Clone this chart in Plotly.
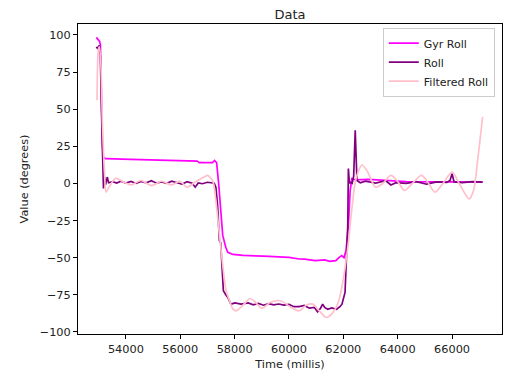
import plotly.graph_objects as go

# ---- data ----
gyr_t = [52913, 52969, 53037, 53063, 53100, 53138, 53175, 53250, 54188, 55313, 56625, 56700,
         57188, 57263, 57338, 57413, 57488, 57563, 57675, 57750, 57938, 58313, 59063, 60000,
         60375, 60563, 60975, 61313, 61500, 61725, 61838, 61938, 62025, 62100, 62189, 62250,
         62313, 62438, 62925, 63563, 64313, 65813, 67125]
gyr_roll = [98.4, 97, 95.5, 93, 60, 25, 17.5, 16.7, 16.2, 15.8, 15, 14,
            14, 15.5, 14, 0, -20, -35, -43, -46.4, -47.8, -48.5, -49, -49.8,
            -50.9, -51, -52, -51.5, -52.5, -52, -50, -48.6, -50, -45, -28, -5,
            3.2, 2.5, 2.7, 1.8, 1.2, 1.0, 0.9]

roll_t = [52913, 52950, 53025, 53063, 53100, 53138, 53175, 53213, 53250, 53314, 53363, 53513,
          53663, 53813, 54000, 54188, 54375, 54563, 54750, 54938, 55125, 55313, 55500, 55688,
          55875, 56063, 56250, 56438, 56550, 56663, 56813, 57000, 57251, 57311, 57375, 57439,
          57488, 57587, 57675, 57750, 57863, 58013, 58238, 58500, 58688, 58875, 59063, 59250,
          59438, 59625, 59813, 60000, 60188, 60375, 60563, 60750, 60938, 61050, 61163, 61238,
          61313, 61425, 61575, 61751, 61875, 61950, 62063, 62126, 62164, 62186, 62224, 62250,
          62325, 62381, 62438, 62501, 62625, 62813, 63188, 63563, 63750, 63938, 64313, 64688,
          65063, 65438, 65813, 65925, 66000, 66075, 66375, 66750, 67125]
roll = [92, 91, 93, 85, 50, 20, -3.4, 4.5, -1, 4.3, 0.5, 1.2,
        0.3, 1.5, 0.2, 1.4, 0, 1.3, 0.4, 1.8, 0.2, 1.0, 0.1, 1.5,
        0.6, -0.5, 1.2, 0.1, -2.5, 0.3, -0.2, 0.8, 0.2, -2.5, -15, -38.5,
        -40, -72.3, -75, -76.8, -81.3, -80.5, -81.3, -80.5, -81.8, -80.8, -82, -81,
        -81.8, -81.2, -82, -81.5, -83, -83, -82.2, -84, -83.5, -86.5, -84, -81.3,
        -83.5, -84.7, -83.8, -84.7, -83, -81.3, -73.4, -35, -28, 10, 0, 0.9,
        0, 5, 35.8, 2, 0.5, 1.5, 0.3, 1.8, -1, 0.5, 0, 1.2,
        -0.5, 1.0, 0.8, 2, 6.5, 1, 0.5, 1.2, 0.9]

filt_t = [52939, 52988, 53025, 53081, 53138, 53213, 53269, 53363, 53625, 53925, 54188, 54563,
          54938, 55313, 55688, 55988, 56250, 56550, 56876, 57000, 57188, 57300, 57439, 57563,
          57686, 57814, 57938, 58061, 58313, 58564, 58763, 59000, 59325, 59689, 60038, 60375,
          60638, 60874, 61125, 61376, 61613, 61812, 62000, 62186, 62314, 62438, 62550, 62689,
          62888, 63188, 63450, 63750, 64013, 64249, 64538, 64875, 65100, 65374, 65663, 66000,
          66263, 66626, 66788, 66938, 67125]
filt_roll = [56, 90, 92, 80, 40, 8, -5.9, -3, 3.4, 0.9, -1, 2,
             -1.5, 1.5, -1, 1.5, -2.5, 1, 4.3, 5.4, 2, -10, -34, -55,
             -72, -79, -84.5, -85.8, -82, -77.5, -80, -84, -80, -79, -83, -85.8,
             -82, -81.3, -86, -90.3, -87, -80.2, -64.4, -39.6, -17, 0.9, 8, 12.6,
             8, -2.5, 0, 5.4, 1, -4.7, 0, 5.4, 1, -5.9, 0, 7.6,
             0, -10.4, -5, 15, 44.8]

x_ticks = [54000, 56000, 58000, 60000, 62000, 64000, 66000]
y_ticks = [-100, -75, -50, -25, 0, 25, 50, 75, 100]

FONT = "DejaVu Sans"
FS = 11.3

fig = go.Figure()
fig.add_trace(go.Scatter(x=gyr_t, y=gyr_roll, mode="lines", name="Gyr Roll",
                         line=dict(color="#ff00ff", width=1.7)))
fig.add_trace(go.Scatter(x=roll_t, y=roll, mode="lines", name="Roll",
                         line=dict(color="#800080", width=1.7)))
fig.add_trace(go.Scatter(x=filt_t, y=filt_roll, mode="lines", name="Filtered Roll",
                         line=dict(color="#ffc0cb", width=1.7, shape="spline", smoothing=0.8)))

axis_common = dict(showgrid=False, zeroline=False, showline=True, mirror=True,
                   linecolor="#000", linewidth=1, ticks="outside", ticklen=4,
                   tickcolor="#000", tickwidth=1,
                   tickfont=dict(family=FONT, size=FS, color="#222"))

# page body has an 8px default margin; figure sized so plot area lands where the reference's does
fig.update_layout(
    width=511, height=372,
    paper_bgcolor="white", plot_bgcolor="white",
    margin=dict(l=70, r=17, t=16, b=39),
    font=dict(family=FONT, size=FS, color="#222"),
    title=dict(text="Data", x=0.5, xref="paper", y=1 - 2 / 372, yref="container",
               xanchor="center", yanchor="top", pad=dict(t=0, b=0),
               font=dict(family=FONT, size=13, color="#222")),
    xaxis=dict(range=[52238, 67838], tickvals=x_ticks, tickformat="d",
               title=dict(text="Time (millis)", standoff=5,
                          font=dict(family=FONT, size=FS, color="#222")),
               **axis_common),
    yaxis=dict(range=[-101.4, 107.4], tickvals=y_ticks,
               title=dict(text="Value (degrees)", standoff=8,
                          font=dict(family=FONT, size=FS, color="#222")),
               **axis_common),
    legend=dict(x=0.983, y=0.988, xanchor="right", yanchor="top",
                bgcolor="rgba(255,255,255,0.8)", bordercolor="#cccccc", borderwidth=1,
                font=dict(family=FONT, size=11, color="#222"),
                tracegroupgap=0, itemwidth=30),
    showlegend=True,
)

fig.write_html("out.html")
